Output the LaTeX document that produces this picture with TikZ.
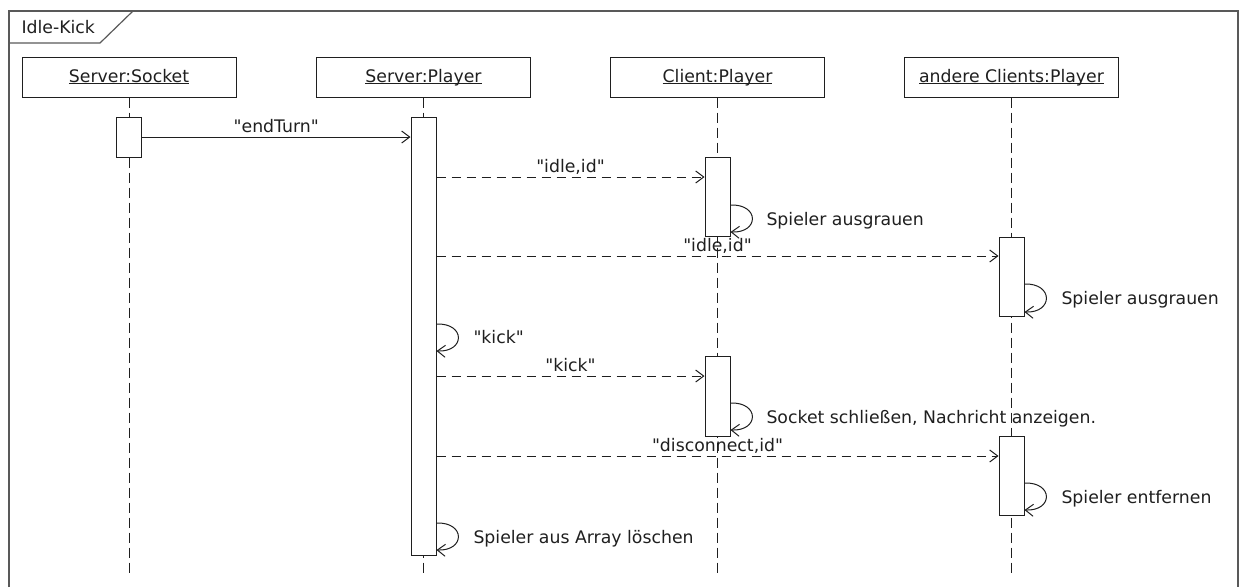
\documentclass[tikz,border=0pt]{standalone}
\usepackage{fontspec}
\setmainfont{DejaVu Sans}[Ligatures=TeXOff]
\usetikzlibrary{arrows.meta}
\definecolor{ink}{gray}{0.12}
\definecolor{framec}{gray}{0.35}
\begin{document}
\begin{tikzpicture}[x=1pt,y=-1pt, line width=1pt, color=ink,
  txt/.style={font=\fontsize{17.3}{20}\selectfont, text=ink, inner sep=0pt},
  head/.style={draw=ink, line width=1pt, minimum width=214pt, minimum height=40pt, inner sep=0pt, txt, text height=13pt, text depth=3pt},
  act/.style={draw=ink, fill=white, line width=1pt, minimum width=25pt, inner sep=0pt},
  life/.style={draw=ink, dash pattern=on 10pt off 5pt},
  tip/.style={-{Straight Barb[length=8pt,width=12pt]}},
  sync/.style={draw=ink, tip},
  async/.style={draw=ink, tip, dash pattern=on 9pt off 6pt},
  selfmsg/.style={draw=ink, tip},
  mlabel/.style={txt, anchor=base, yshift=4.3pt},
  slabel/.style={txt, anchor=base west},
  framestyle/.style={draw=framec, line width=1.2pt}
]
\useasboundingbox (0,0) rectangle (1242,587);

% frame
\draw[framestyle] (9,587) -- (9,11) -- (1238,11) -- (1238,587);
\draw[framestyle] (9,43) -- (100,43) -- (133,11);
\node[txt, anchor=base west] (title) at (21,33) {Idle-Kick};

% headers
\node[head] (hs) at (129,77) {\underline{\smash{Server:Socket}}};
\node[head] (hp) at (423.5,77) {\underline{\smash{Server:Player}}};
\node[head] (hc) at (717.5,77) {\underline{\smash{Client:Player}}};
\node[head] (ha) at (1011.5,77) {\underline{\smash{andere Clients:Player}}};

% lifelines
\coordinate (es) at (129,577);
\coordinate (ep) at (423.5,577);
\coordinate (ec) at (717.5,577);
\coordinate (ea) at (1011.5,577);
\draw[life] (hs.south) -- (es);
\draw[life] (hp.south) -- (ep);
\draw[life] (hc.south) -- (ec);
\draw[life] (ha.south) -- (ea);

% activations
\node[act, minimum height=40pt] (as1) at (129,137) {};
\node[act, minimum height=438pt] (ap) at (423.5,336) {};
\node[act, minimum height=79pt] (ac1) at (717.5,196.5) {};
\node[act, minimum height=80pt] (ac2) at (717.5,396) {};
\node[act, minimum height=79pt] (aa1) at (1011.5,276.5) {};
\node[act, minimum height=79pt] (aa2) at (1011.5,475.5) {};

% messages
\draw[sync] (as1.east) -- (ap.west |- as1.east) node[mlabel, midway] (m1) {"endTurn"};
\draw[async] (ap.east |- 0,177) -- (ac1.west |- 0,177) node[mlabel, midway] (m2) {"idle,id"};
\draw[selfmsg] (ac1.east |- 0,205) .. controls +(29,-1) and +(29,1) .. (ac1.east |- 0,232);
\node[slabel] (s1) at (766,225) {Spieler ausgrauen};
\draw[async] (ap.east |- 0,256) -- (aa1.west |- 0,256) node[mlabel, midway] (m3) {"idle,id"};
\draw[selfmsg] (aa1.east |- 0,284) .. controls +(29,-1) and +(29,1) .. (aa1.east |- 0,312);
\node[slabel] (s2) at (1061,304.5) {Spieler ausgrauen};
\draw[selfmsg] (ap.east |- 0,324) .. controls +(29,-1) and +(29,1) .. (ap.east |- 0,351);
\node[slabel] (s3) at (473,343.5) {"kick"};
\draw[async] (ap.east |- 0,376) -- (ac2.west |- 0,376) node[mlabel, midway] (m4) {"kick"};
\draw[selfmsg] (ac2.east |- 0,403) .. controls +(29,-1) and +(29,1) .. (ac2.east |- 0,430);
\node[slabel] (s4) at (766,423) {Socket schließen, Nachricht anzeigen.};
\draw[async] (ap.east |- 0,456) -- (aa2.west |- 0,456) node[mlabel, midway] (m5) {"disconnect,id"};
\draw[selfmsg] (aa2.east |- 0,483) .. controls +(29,-1) and +(29,1) .. (aa2.east |- 0,510);
\node[slabel] (s5) at (1061,503) {Spieler entfernen};
\draw[selfmsg] (ap.east |- 0,523) .. controls +(29,-1) and +(29,1) .. (ap.east |- 0,550);
\node[slabel] (s6) at (473,543) {Spieler aus Array löschen};
\end{tikzpicture}
\end{document}
